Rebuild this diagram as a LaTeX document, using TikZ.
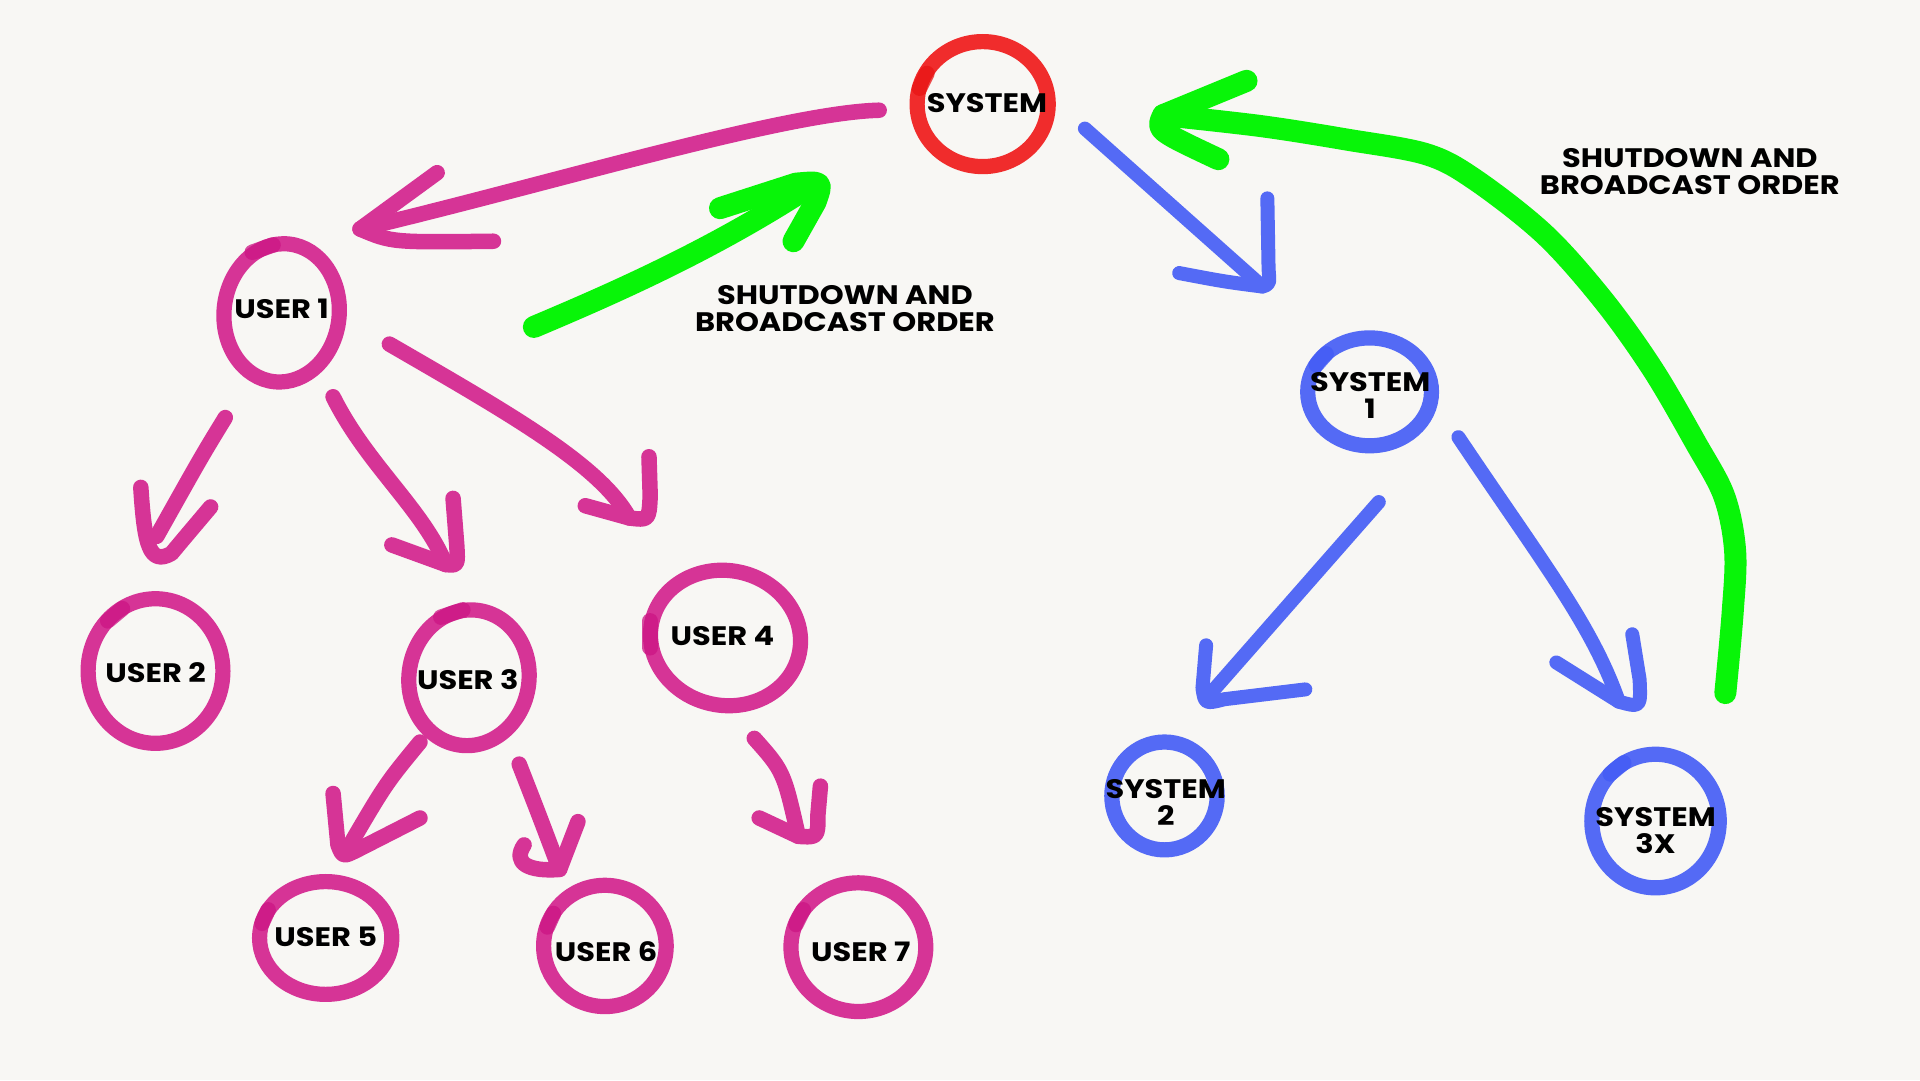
\documentclass[tikz,border=0pt]{standalone}
\usepackage{fontspec}
\newfontfamily\lblfont{Poppins}[FakeStretch=1.14]
\usetikzlibrary{shapes.geometric}
\definecolor{bg}{RGB}{248,247,244}
\definecolor{mag}{RGB}{214,52,150}
\definecolor{magd}{RGB}{204,20,132}
\definecolor{sred}{RGB}{240,44,44}
\definecolor{sredd}{RGB}{232,20,20}
\definecolor{sblue}{RGB}{84,106,245}
\definecolor{sblued}{RGB}{66,90,245}
\definecolor{sgreen}{RGB}{8,245,8}
\tikzset{
  ring/.style={ellipse, draw, line width=0.152cm, inner sep=0pt},
  ucirc/.style={ring, draw=mag},
  scirc/.style={ring, draw=sblue},
  rcirc/.style={ring, draw=sred},
  blob/.style={line width=0.155cm, line cap=round, opacity=0.75},
  lbl/.style={font=\lblfont\bfseries\fontsize{7.6}{7.7}\selectfont, align=center, inner sep=0pt, text=black},
  stroke/.style={line width=0.155cm, line cap=round, line join=round},
  parrow/.style={stroke, draw=mag},
  barrow/.style={stroke, draw=sblue, line width=0.14cm},
  garrow/.style={stroke, draw=sgreen, line width=0.22cm},
}
\begin{document}
\begin{tikzpicture}[x=0.012245cm, y=-0.012245cm]
\useasboundingbox (0,0) rectangle (1568,882);
\fill[bg] (0,0) rectangle (1568,882);

% rings
\node[rcirc, minimum width=1.310cm, minimum height=1.249cm] (sys) at (802.5,85) {};
\node[ucirc, minimum width=1.151cm, minimum height=1.384cm, rotate=-6] (u1) at (230,255.5) {};
\node[ucirc, minimum width=1.347cm, minimum height=1.445cm] (u2) at (127,548) {};
\node[ucirc, minimum width=1.200cm, minimum height=1.359cm, rotate=-8] (u3) at (383,553.5) {};
\node[ucirc, minimum width=1.506cm, minimum height=1.347cm, rotate=-12] (u4) at (592.5,521) {};
\node[ucirc, minimum width=1.322cm, minimum height=1.127cm] (u5) at (266,766) {};
\node[ucirc, minimum width=1.225cm, minimum height=1.212cm] (u6) at (494,772.5) {};
\node[ucirc, minimum width=1.347cm, minimum height=1.286cm] (u7) at (701,773.5) {};
\node[scirc, minimum width=1.237cm, minimum height=1.078cm] (s1) at (1118.5,320) {};
\node[scirc, minimum width=1.053cm, minimum height=1.078cm] (s2) at (951,650) {};
\node[scirc, minimum width=1.273cm, minimum height=1.335cm] (s3) at (1352,670.5) {};

% darker stroke starts on the rings
\draw[blob, draw=sredd] (751,72) -- (757,60);
\draw[blob, draw=magd] (206,206) -- (223,200);
\draw[blob, draw=magd] (88,507) -- (100,497);
\draw[blob, draw=magd] (360,504) -- (378,498);
\draw[blob, draw=magd] (531,507) -- (531,529);
\draw[blob, draw=magd] (214,754) -- (219,743);
\draw[blob, draw=magd] (447,757) -- (452,746);
\draw[blob, draw=magd] (650,755) -- (656,743);
\draw[blob, draw=sblued] (1075,298) -- (1083,289);
\draw[blob, draw=sblued] (1315,632) -- (1326,623);

% labels
\node[lbl] (syst) at (806,84) {SYSTEM};
\node[lbl] (u1t) at (230,252) {USER 1};
\node[lbl] (u2t) at (127,549) {USER 2};
\node[lbl] (u3t) at (382,555) {USER 3};
\node[lbl] (u4t) at (590,519) {USER 4};
\node[lbl] (u5t) at (266,765) {USER 5};
\node[lbl] (u6t) at (495,777) {USER 6};
\node[lbl] (u7t) at (703,777) {USER 7};
\node[lbl] (s1t) at (1119,323) {SYSTEM\\1};
\node[lbl] (s2t) at (952,655) {SYSTEM\\2};
\node[lbl] (s3t) at (1352,678) {SYSTEM\\3X};
\node[lbl] (note1) at (690,252) {SHUTDOWN AND\\BROADCAST ORDER};
\node[lbl] (note2) at (1380,140) {SHUTDOWN AND\\BROADCAST ORDER};

% magenta arrows
\coordinate (aS) at (718,90); \coordinate (aT) at (294,187);
\draw[parrow] (aS) .. controls (640,92) and (450,150) .. (aT);
\draw[parrow] (357,141) -- (aT) .. controls (320,198) .. (403,197);

\coordinate (bS) at (184,341); \coordinate (bT) at (128,438);
\draw[parrow] (bS) .. controls (165,372) .. (bT);
\draw[parrow] (115,398) .. controls (118,445) and (122,462) .. (140,452) .. controls (150,440) .. (172,414);

\coordinate (cS) at (272,324); \coordinate (cT) at (364,461);
\draw[parrow] (cS) .. controls (300,380) and (345,415) .. (cT);
\draw[parrow] (320,445) -- (cT) .. controls (374,462) .. (373,445) -- (370,407);

\coordinate (dS) at (318,281); \coordinate (dT) at (514,423);
\draw[parrow] (dS) .. controls (420,340) and (490,380) .. (dT);
\draw[parrow] (478,413) -- (dT) .. controls (530,425) .. (531,405) -- (530,373);

\coordinate (eS) at (343,606); \coordinate (eT) at (284,693);
\draw[parrow] (eS) .. controls (315,640) .. (eT);
\draw[parrow] (272,648) -- (276,690) .. controls (280,700) .. (292,694) -- (343,668);

\coordinate (fS) at (424,624); \coordinate (fT) at (457,710);
\draw[parrow] (fS) .. controls (440,665) .. (fT);
\draw[parrow] (428,690) .. controls (418,705) and (432,712) .. (fT) -- (472,671);

\coordinate (gS) at (616,603); \coordinate (gT) at (652,683);
\draw[parrow] (gS) .. controls (640,630) .. (gT);
\draw[parrow] (620,668) -- (gT) .. controls (668,684) .. (668,665) -- (670,642);

% blue arrows
\coordinate (hS) at (886,105); \coordinate (hT) at (1031,234);
\draw[barrow] (hS) -- (hT);
\draw[barrow] (963,223) .. controls (1000,230) .. (hT) .. controls (1037,232) .. (1036,220) -- (1035,162);

\coordinate (iS) at (1126,410); \coordinate (iT) at (988,567);
\draw[barrow] (iS) -- (iT);
\draw[barrow] (985,527) -- (982,562) .. controls (984,575) .. (1000,571) -- (1066,563);

\coordinate (jS) at (1191,357); \coordinate (jT) at (1322,573);
\draw[barrow] (jS) .. controls (1260,460) and (1300,510) .. (jT);
\draw[barrow] (1271,541) -- (jT) .. controls (1340,578) .. (1339,555) -- (1333,518);

% green arrows
\coordinate (kS) at (436,267); \coordinate (kT) at (660,153);
\draw[garrow] (kS) .. controls (500,240) and (580,205) .. (kT);
\draw[garrow] (588,170) -- (650,150) .. controls (672,148) .. (666,165) -- (648,197);

\coordinate (lS) at (1409,566); \coordinate (lT) at (950,94);
\draw[garrow] plot[smooth, tension=0.55] coordinates {(lS) (1415,500) (1417,450) (1408,405) (1385,362) (1350,302) (1310,246) (1262,192) (1205,147) (1165,126) (1100,114) (1030,103) (lT)};
\draw[garrow] (1018,66) -- (lT) .. controls (944,106) .. (995,130);
\end{tikzpicture}
\end{document}
